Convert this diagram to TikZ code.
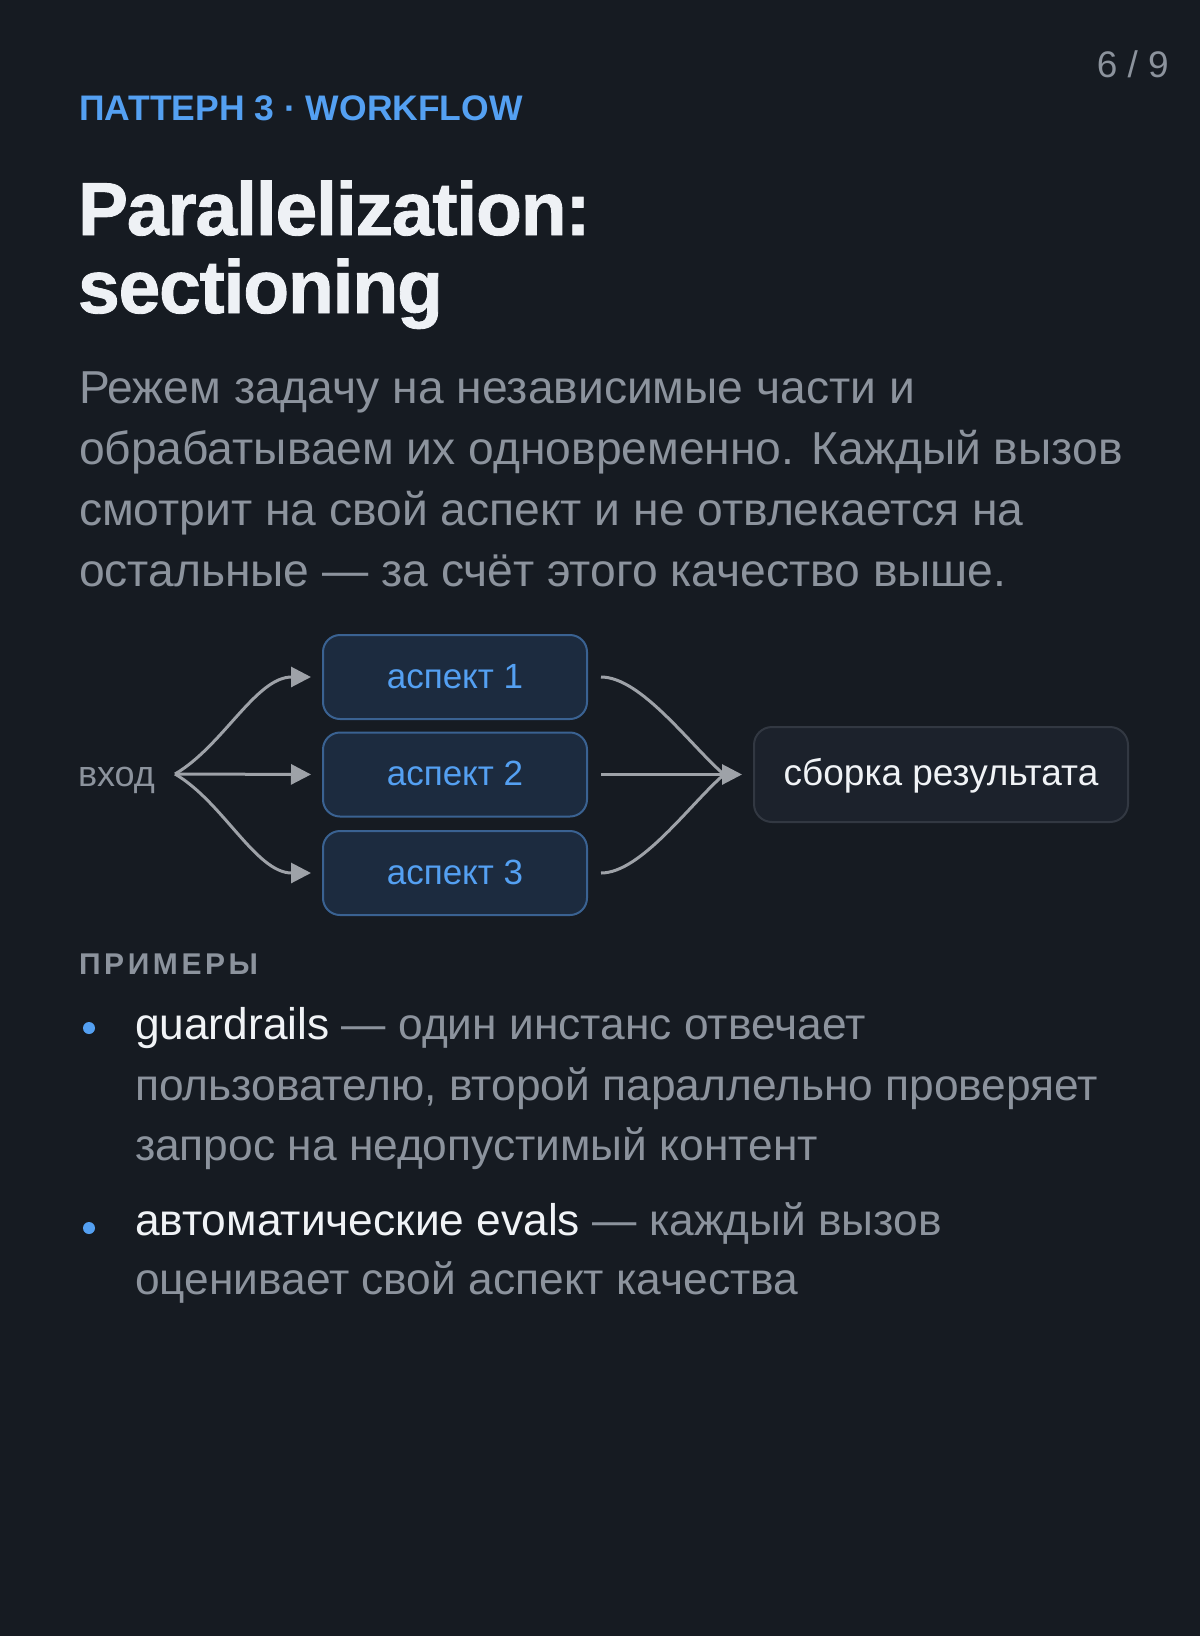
\documentclass[tikz,border=0pt]{standalone}
\usepackage{fontspec}
\setmainfont{Liberation Sans}
\newfontfamily\bodyfont{Liberation Sans}
\newfontfamily\titlefont{Liberation Sans Bold}[FakeBold=1.2, LetterSpace=-1.5]
\usetikzlibrary{arrows.meta}
\definecolor{bg}{RGB}{22,27,34}
\definecolor{titlec}{RGB}{238,241,245}
\definecolor{accent}{RGB}{84,160,242}
\definecolor{muted}{RGB}{140,147,157}
\definecolor{arrowc}{RGB}{158,162,168}
\definecolor{aspfill}{RGB}{28,43,63}
\definecolor{aspdraw}{RGB}{58,98,146}
\definecolor{resfill}{RGB}{28,34,44}
\definecolor{resdraw}{RGB}{50,56,66}
\definecolor{hi}{RGB}{240,243,246}
\tikzset{
  txt/.style={anchor=base west, inner sep=0pt, outer sep=0pt},
  para/.style={txt, text=muted, font=\bodyfont\fontsize{46.2}{56}\selectfont},
  item/.style={txt, text=muted, font=\bodyfont\fontsize{44.3}{54}\selectfont},
  aspbox/.style={draw=aspdraw, fill=aspfill, line width=2pt, rounded corners=17pt,
    minimum width=264pt, minimum height=84pt, inner sep=0pt,
    text=accent, font=\bodyfont\fontsize{35}{40}\selectfont, text height=22pt, text depth=0pt},
  resbox/.style={draw=resdraw, fill=resfill, line width=2pt, rounded corners=18pt,
    minimum width=374pt, minimum height=95pt, inner sep=0pt,
    text=hi, font=\bodyfont\fontsize{37}{44}\selectfont, text height=21pt, text depth=0pt},
  conn/.style={draw=arrowc, line width=3pt},
  tipconn/.style={conn, -{Triangle[length=20pt,width=20pt]}},
  dot/.style={circle, fill=accent, minimum size=12pt, inner sep=0pt}
}
\begin{document}
\begin{tikzpicture}[x=1pt,y=1pt]
\useasboundingbox (0,0) rectangle (1200,-1636);
\fill[bg] (0,0) rectangle (1200,-1636);

% page number
\node[anchor=base east, inner sep=0pt, text=muted, font=\fontsize{37}{44}\selectfont] (pg) at (1169,-77) {6 / 9};

% header
\node[txt, text=accent, font=\bfseries\fontsize{35.5}{42}\selectfont] (hdr) at (79,-120) {ПАТТЕРН 3 · WORKFLOW};

% title
\node[txt, text=titlec, font=\titlefont\fontsize{75}{90}\selectfont] (t1) at (78,-235) {Parallelization:};
\node[txt, text=titlec, font=\titlefont\fontsize{75}{90}\selectfont] (t2) at (78,-313) {sectioning};

% paragraph
\node[para] (p1) at (79,-403) {Режем задачу на независимые части и};
\node[para] (p2) at (79,-464) {обрабатываем их одновременно. Каждый вызов};
\node[para] (p3) at (79,-525) {смотрит на свой аспект и не отвлекается на};
\node[para] (p4) at (79,-586) {остальные — за счёт этого качество выше.};

% diagram
\node[txt, text=muted, font=\bodyfont\fontsize{36}{42}\selectfont] (in) at (78,-786) {вход};
\coordinate (fork) at (175,-774);
\node[aspbox] (a1) at (455,-677) {аспект 1};
\node[aspbox] (a2) at (455,-774.5) {аспект 2};
\node[aspbox] (a3) at (455,-873) {аспект 3};
\node[resbox] (res) at (941,-774.5) {сборка результата};
\coordinate (join) at (724,-774.5);

\draw[tipconn, shorten >=11pt] (fork) .. controls +(48,28) and +(-66,0) .. (a1.west);
\draw[tipconn, shorten >=11pt] (fork) -- (a2.west);
\draw[tipconn, shorten >=11pt] (fork) .. controls +(48,-28) and +(-66,0) .. (a3.west);

\draw[conn, shorten <=13pt] (a1.east) .. controls +(53,0) and +(-34,29.5) .. (join);
\draw[conn, shorten <=13pt] (a3.east) .. controls +(53,0) and +(-34,-29.5) .. (join);
\draw[tipconn, shorten <=13pt, shorten >=11pt] (a2.east) -- (res.west);

% examples
\node[txt, text=muted, font=\bfseries\fontsize{30}{36}\selectfont\addfontfeature{LetterSpace=12}] (ex) at (79,-974) {ПРИМЕРЫ};

\node[dot] (d1) at (89,-1028) {};
\node[item] (b11) at (135,-1039) {\textcolor{hi}{guardrails} — один инстанс отвечает};
\node[item] (b12) at (135,-1100) {пользователю, второй параллельно проверяет};
\node[item] (b13) at (135,-1160) {запрос на недопустимый контент};

\node[dot] (d2) at (89,-1228) {};
\node[item] (b21) at (135,-1235) {\textcolor{hi}{автоматические evals} — каждый вызов};
\node[item] (b22) at (135,-1294) {оценивает свой аспект качества};
\end{tikzpicture}
\end{document}
